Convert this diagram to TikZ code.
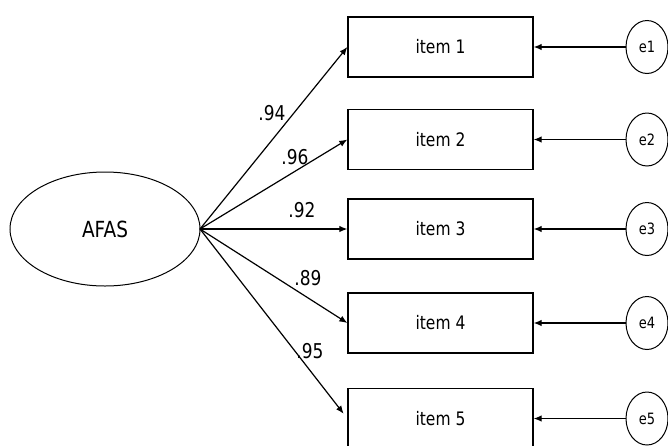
\documentclass[tikz,border=0pt]{standalone}
\usepackage{fontspec}
\usepackage{graphicx}
\setmainfont{DejaVu Sans}
\usetikzlibrary{arrows.meta,shapes.geometric}
\newcommand\vstretch[1]{\scalebox{1}[1.2]{#1}}
\begin{document}
\begin{tikzpicture}[x=1pt,y=-1pt,
  every node/.style={inner sep=0pt},
  itembox/.style={draw,line width=1.3pt,minimum width=185pt,minimum height=60pt,font=\fontsize{15.5}{16}\selectfont},
  errnode/.style={draw,ellipse,line width=1pt,minimum width=42pt,minimum height=53pt,font=\fontsize{13}{14}\selectfont},
  latent/.style={draw,ellipse,line width=1pt,minimum width=190pt,minimum height=114pt,font=\fontsize{18.5}{19}\selectfont},
  coef/.style={font=\fontsize{17}{18}\selectfont},
  path/.style={line width=1.2pt,-{Latex[length=8pt,width=6.5pt]}}]
\useasboundingbox[fill=white] (0,0) rectangle (668,445);
\node[latent] (afas) at (105,229) {\vstretch{AFAS}};
\coordinate (src) at (200,229);
\node[itembox] (i1) at (440.5,47) {\vstretch{item 1}};
\node[itembox] (i2) at (440.5,139.5) {\vstretch{item 2}};
\node[itembox] (i3) at (440.5,229) {\vstretch{item 3}};
\node[itembox] (i4) at (440.5,323) {\vstretch{item 4}};
\node[itembox] (i5) at (440.5,418.5) {\vstretch{item 5}};
\node[errnode] (e1) at (647,47) {\vstretch{e1}};
\node[errnode] (e2) at (647,139.5) {\vstretch{e2}};
\node[errnode] (e3) at (647,229) {\vstretch{e3}};
\node[errnode] (e4) at (647,323) {\vstretch{e4}};
\node[errnode] (e5) at (647,418.5) {\vstretch{e5}};
\draw[path] (src) -- (i1.west);
\draw[path] (src) -- (i2.west);
\draw[path] (src) -- (i3.west);
\draw[path] (src) -- (i4.west);
\draw[path,shorten >=6pt] (src) -- (i5.west);
\foreach \k in {1,...,5}{\draw[path] (e\k.west) -- (i\k.east);}
\node[coef] (c1) at (272,113) {\vstretch{.94}};
\node[coef] (c2) at (295,157) {\vstretch{.96}};
\node[coef] (c3) at (302,210) {\vstretch{.92}};
\node[coef] (c4) at (308,278) {\vstretch{.89}};
\node[coef] (c5) at (310,351) {\vstretch{.95}};
\end{tikzpicture}
\end{document}
